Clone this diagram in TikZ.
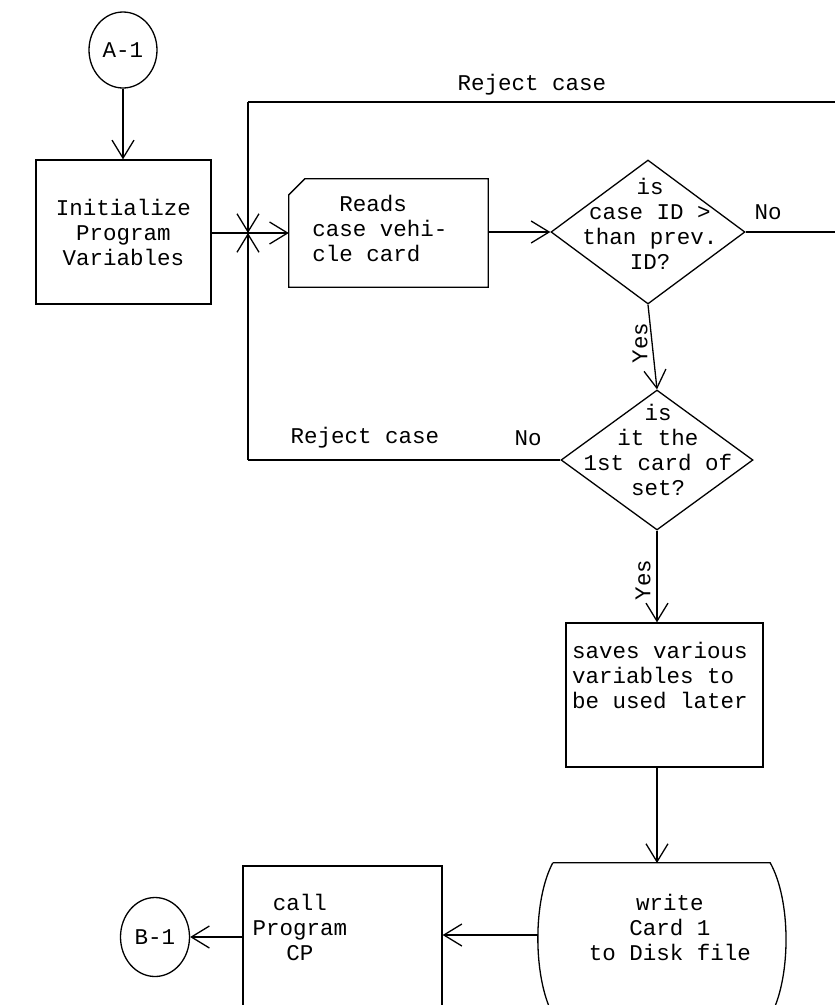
\documentclass[tikz,border=0pt]{standalone}
\usepackage{fontspec}
\setmainfont{Liberation Mono}
\usetikzlibrary{arrows.meta,shapes.geometric,calc}
\begin{document}
\begin{tikzpicture}[x=1pt,y=-1pt,
  every node/.style={font=\fontsize{22.5}{25}\selectfont},
  ln/.style={line width=1.3pt},
  arr/.style={ln,-{Straight Barb[length=18pt,width=22pt,line width=1.3pt]}},
  procbox/.style={draw,ln,rectangle,inner sep=0pt},
  conn/.style={draw,ln,ellipse,inner sep=0pt},
  decide/.style={draw,ln,diamond,inner sep=0pt},
  txt/.style={inner sep=0pt,align=center},
  lbl/.style={inner sep=0pt}]
\useasboundingbox (0,0) rectangle (835,1005);
\clip (0,0) rectangle (835,1005);

% nodes
\node[conn,minimum width=68pt,minimum height=76pt] (A1) at (123,50) {A-1};
\node[procbox,minimum width=175pt,minimum height=144pt,align=center] (init) at (123.5,232) {Initialize\\Program\\Variables};
\node[inner sep=0pt,minimum width=199pt,minimum height=108pt] (reads) at (388.5,233) {};
\draw[ln] ($(reads.north west)+(16,0)$) -- (reads.north east) -- (reads.south east)
  -- (reads.south west) -- ($(reads.north west)+(0,16)$) -- cycle;
\node[txt,align=left] at (380,228) {\phantom{ca}Reads\\case vehi-\\cle card};
\node[decide,minimum width=194pt,minimum height=144pt] (d1) at (648,232) {};
\node[txt] at (650,224) {is\\case ID >\\than prev.\\ID?};
\node[decide,minimum width=192pt,minimum height=140pt] (d2) at (657,460) {};
\node[txt] at (658,450) {is\\it the\\1st card of\\set?};
\node[procbox,minimum width=197pt,minimum height=144pt] (saves) at (664.5,695) {};
\node[txt,align=left,anchor=west] at (572,675) {saves various\\variables to\\be used later};
\node[inner sep=0pt,minimum width=217pt,minimum height=150pt] (disk) at (661.5,938) {};
\node[txt] at (670,927) {write\\Card 1\\to Disk file};
\node[procbox,minimum width=199pt,minimum height=180pt] (call) at (342.5,956) {};
\node[txt] at (300,927) {call\\Program\\CP};
\node[conn,minimum width=69pt,minimum height=79pt] (B1) at (155,937) {B-1};

% disk outline
\draw[ln] (disk.north west) -- (disk.north east)
  .. controls (791,900) and (791,975) .. (772,1013);
\draw[ln] (disk.north west)
  .. controls (533,900) and (533,975) .. (552,1013);

% coordinates
\coordinate (J) at (248,233);
\coordinate (TL) at (248,102);
\coordinate (TR) at (840,102);
\coordinate (R1) at (840,232);
\coordinate (BL) at (248,460);
\coordinate (diskL) at (538,935);
\coordinate (disktop) at (657,863);

% connectors
\draw[arr] (A1.south) -- (A1.south |- init.north);
\draw[ln] (init.east |- J) -- (J);
\draw[arr] (J) -- (reads.west |- J);
\draw[arr] (reads.east |- d1.west) -- (d1.west);
\draw[ln] (d1.east) -- (R1);
\draw[ln] (TR) -- (TL);
\draw[arr] (TL) -- (J);
\draw[ln] (d2.west) -- (BL);
\draw[arr] (BL) -- (J);
\draw[arr] (d1.south) -- (d2.north);
\draw[arr] (d2.south) -- (d2.south |- saves.north);
\draw[arr] (d2.south |- saves.south) -- (disktop);
\draw[arr] (diskL) -- (call.east |- diskL);
\draw[arr] (call.west |- B1.east) -- (B1.east);

% labels
\node[lbl] at (532,85) {Reject case};
\node[lbl] at (768,212) {No};
\node[lbl] at (365,438) {Reject case};
\node[lbl] at (528,438) {No};
\node[lbl,rotate=90] at (640,343) {Yes};
\node[lbl,rotate=90] at (643,580) {Yes};
\end{tikzpicture}
\end{document}
